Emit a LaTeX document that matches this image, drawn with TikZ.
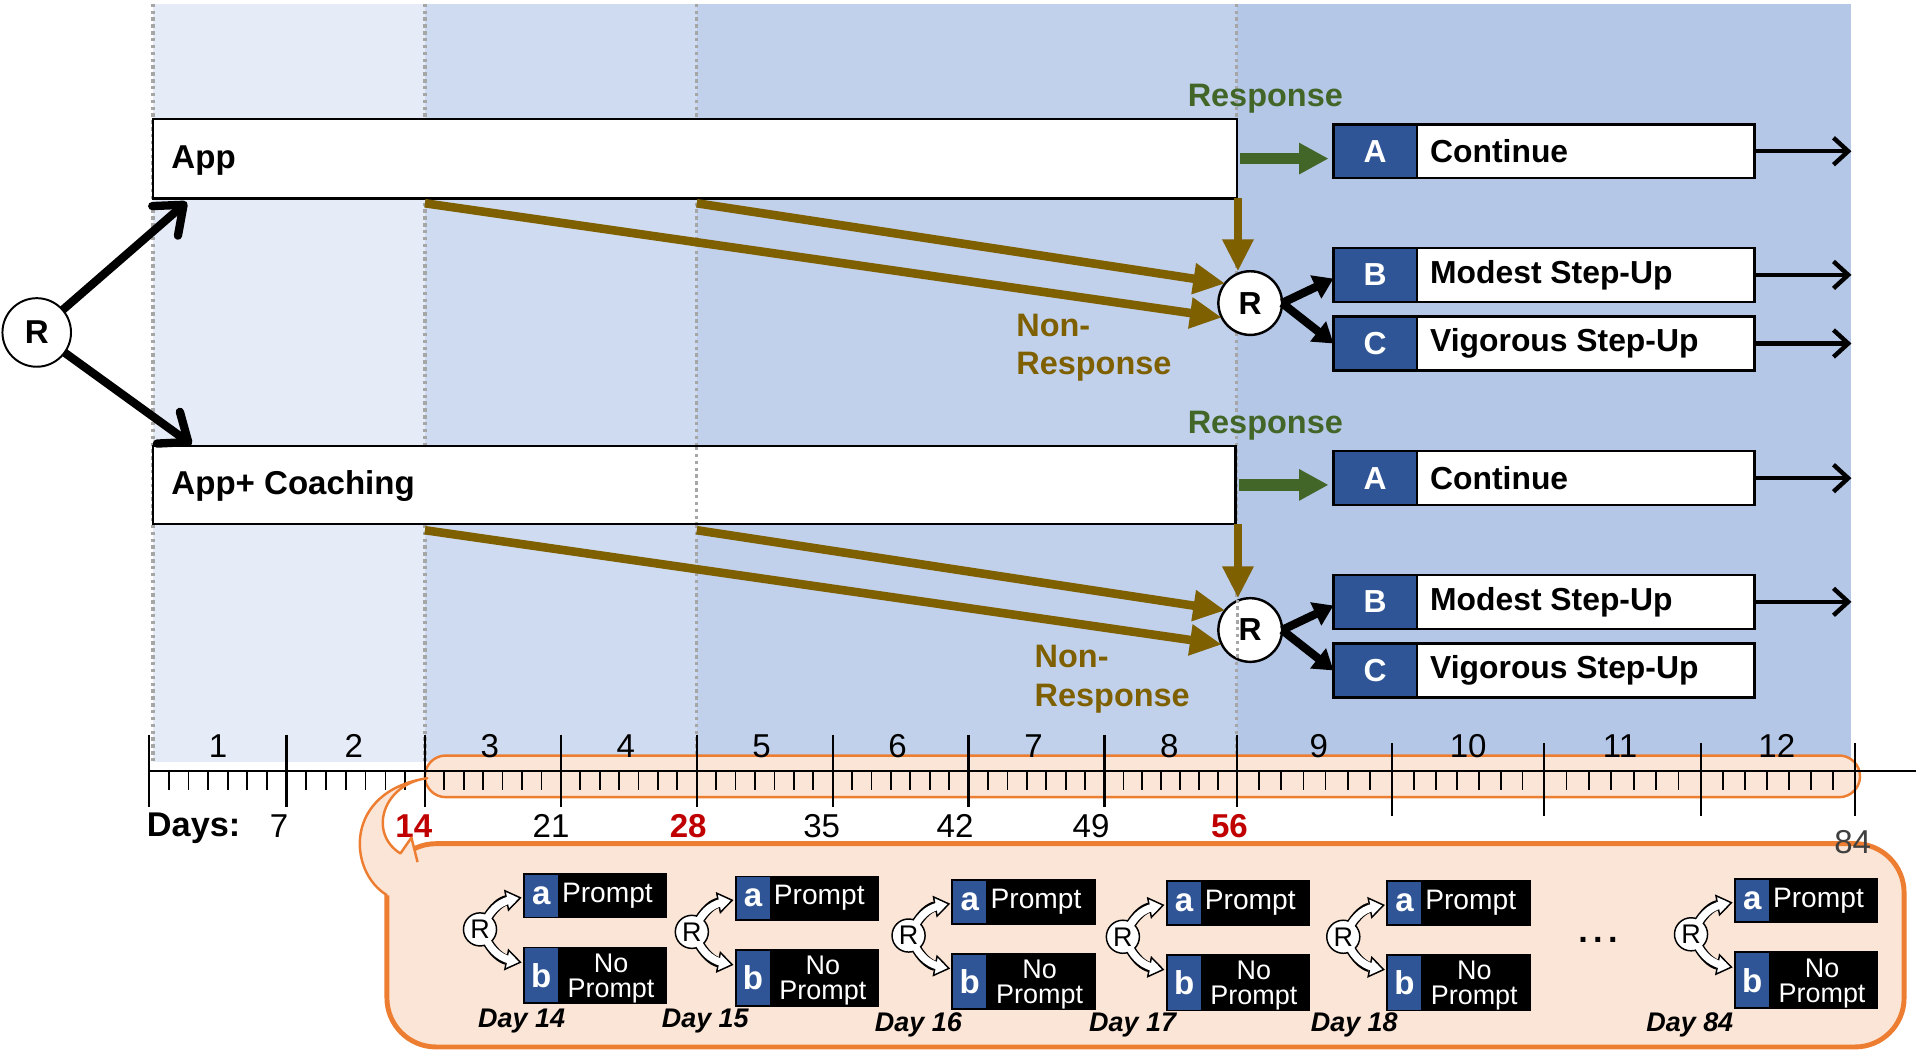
\documentclass[tikz,border=0pt]{standalone}
\usepackage{fontspec}
\setmainfont{Liberation Sans}
\usetikzlibrary{arrows.meta,calc}
\definecolor{bandA}{RGB}{230,236,247}
\definecolor{bandB}{RGB}{207,219,240}
\definecolor{bandC}{RGB}{193,208,235}
\definecolor{bandD}{RGB}{180,199,231}
\definecolor{boxblue}{RGB}{47,85,151}
\definecolor{brownarr}{RGB}{127,96,0}
\definecolor{respgreen}{RGB}{66,102,40}
\definecolor{dotgray}{RGB}{166,166,166}
\definecolor{peach}{RGB}{251,229,214}
\definecolor{orangeline}{RGB}{237,125,49}
\definecolor{redday}{RGB}{192,0,0}
\definecolor{grayday}{RGB}{64,64,64}
\newcommand{\fsz}[1]{\fontsize{#1}{#1}\selectfont}

\tikzset{
  every node/.style={inner sep=0pt, outer sep=0pt},
  dotline/.style={dotgray, line width=1.4pt, dash pattern=on 1.4pt off 1.4pt},
  bigR/.style={circle, draw, fill=white, line width=0.8pt, minimum size=28pt, font=\bfseries\fsz{13.5}},
  smallR/.style={circle, draw, fill=white, line width=1pt, minimum size=26pt, font=\bfseries\fsz{13}},
  bigarrow/.style={line width=3.4pt, -{Straight Barb[length=10pt,width=16pt,round]}},
  endarrow/.style={line width=1.8pt, -{Straight Barb[length=6pt,width=11pt]}},
  greenarrow/.style={respgreen, line width=4.75pt, -{Triangle[length=12pt,width=12pt]}},
  brownarrow/.style={brownarr, line width=3.5pt, -{Triangle[length=13pt,width=12pt]}},
  blackarrow/.style={line width=3.4pt, -{Triangle[length=8pt,width=10pt]}},
  mainbox/.style={draw, fill=white, line width=1pt, anchor=north west, minimum width=442.5pt},
  optwhite/.style={draw, fill=white, line width=1pt, anchor=north west, minimum width=172pt, minimum height=22pt},
  optblue/.style={draw, fill=boxblue, line width=1pt, anchor=north west, minimum width=34pt, minimum height=22pt, text=white, font=\bfseries\fsz{13}},
  opttext/.style={anchor=west, font=\bfseries\fsz{13}},
  grouplbl/.style={font=\bfseries\fsz{13.5}, anchor=west},
  resp/.style={text=respgreen, font=\bfseries\fsz{13.25}, anchor=base west},
  nonresp/.style={text=brownarr, font=\bfseries\fsz{13.25}, anchor=base west},
  weeknum/.style={font=\fsz{13.5}, anchor=base},
  daynum/.style={font=\fsz{13.5}, anchor=base},
  daykey/.style={font=\bfseries\fsz{13.5}, anchor=base, text=redday},
  blockarrow/.style={black, line width=4.2pt, -{Triangle[length=6.5pt,width=9pt,fill=white,line width'=0.6pt]}},
  blockinner/.style={white, line width=3pt, shorten >=3.2pt},
  blackbox/.style={fill=black, anchor=north west, minimum width=59pt},
  smallblue/.style={fill=boxblue, anchor=north west, minimum width=13.5pt, text=white, font=\bfseries\fsz{13.5}}
}

\newcommand{\optbox}[5]{%
  \node[optwhite] (#1) at (#2,#3) {};
  \node[optblue] (#1l) at (#2,#3) {#4};
  \node[opttext] (#1t) at ($(#1.west)+(79,0)$) {#5};
}

\newcommand{\daygrp}[6]{%
  \coordinate (#1p) at (#2,#3);
  \node[blackbox, minimum height=18.5pt] (#1a) at (#1p) {};
  \node[smallblue, minimum height=17pt] (#1al) at ($(#1p)+(1.5,1.5)$) {a};
  \node[anchor=west, text=white, font=\fsz{11.5}] (#1at) at ($(#1p)+(32,18.5)$) {Prompt};
  \node[blackbox, minimum height=23.5pt] (#1b) at ($(#1p)+(0,60)$) {};
  \node[smallblue, minimum height=22pt] (#1bl) at ($(#1p)+(1.5,61.5)$) {b};
  \node[align=center, text=white, font={\fontsize{11}{10.2}\selectfont}] (#1bt) at ($(#1p)+(72,86)$) {No\\Prompt};
  \coordinate (#1o) at ($(#1p)+(-35,46)$);
  \draw[blockarrow] ($(#1o)+(4,-6)$) .. controls ($(#1o)+(11,-19)$) and ($(#1o)+(18,-23)$) .. ($(#1o)+(34,-26)$);
  \draw[blockarrow] ($(#1o)+(4,6)$) .. controls ($(#1o)+(10,19)$) and ($(#1o)+(18,24)$) .. ($(#1o)+(34,27)$);
  \node[circle, draw, fill=white, line width=0.6pt, minimum size=13.5pt] (#1c) at (#1o) {};
  \draw[blockinner] ($(#1o)+(4,-6)$) .. controls ($(#1o)+(11,-19)$) and ($(#1o)+(18,-23)$) .. ($(#1o)+(34,-26)$);
  \draw[blockinner] ($(#1o)+(4,6)$) .. controls ($(#1o)+(10,19)$) and ($(#1o)+(18,24)$) .. ($(#1o)+(34,27)$);
  \node[font=\fsz{11}] (#1r) at (#1o) {R};
  \node[font=\bfseries\itshape\fsz{11}, anchor=base] (#1d) at (#4,#5) {#6};
}

\begin{document}
\begin{tikzpicture}[x=0.5pt,y=-0.5pt]
\useasboundingbox (0,0) rectangle (1568,858);
\fill[white] (0,0) rectangle (1568,858);

% background bands
\fill[bandA] (125,3) rectangle (347,622);
\fill[bandB] (347,3) rectangle (569,622);
\fill[bandC] (569,3) rectangle (1010,622);
\fill[bandD] (1010,3) rectangle (1512,622);
\foreach \x in {125,347,569,1010} \draw[dotline] (\x,3) -- (\x,622);

% response labels
\node[resp] (resp1) at (970,87) {Response};
\node[resp] (resp2) at (970,354) {Response};
\node[nonresp] (nr1a) at (830,275) {Non-};
\node[nonresp] (nr1b) at (830,306) {Response};
\node[nonresp] (nr2a) at (845,545) {Non-};
\node[nonresp] (nr2b) at (845,577) {Response};

% main boxes
\node[mainbox, minimum height=32.5pt] (app) at (125,97) {};
\node[grouplbl] (appt) at (140,131) {App};
\node[mainbox, minimum width=442pt, minimum height=32pt] (coach) at (125,364) {};
\node[grouplbl] (coacht) at (140,397) {App+ Coaching};
\draw[dotline] (569,365) -- (569,427);

% randomisation circles
\node[bigR] (R0) at (30,271.5) {R};
\node[smallR] (R1) at (1021,247.5) {R};
\node[smallR] (R2) at (1021,514.5) {R};
\draw[dotline] (1010.5,428) -- (1010.5,540);

% option boxes
\optbox{A1}{1089}{101.5}{A}{Continue}
\optbox{B1}{1089}{202.5}{B}{Modest Step-Up}
\optbox{C1}{1089}{258.5}{C}{Vigorous Step-Up}
\optbox{A2}{1089}{368.5}{A}{Continue}
\optbox{B2}{1089}{469.5}{B}{Modest Step-Up}
\optbox{C2}{1089}{525.5}{C}{Vigorous Step-Up}

% first randomisation arrows
\coordinate (appin) at (152.5,165);
\coordinate (coachin) at (156.5,363);
\draw[bigarrow] (R0) -- (appin);
\draw[bigarrow] (R0) -- (coachin);

% response arrows
\draw[greenarrow] ([xshift=1.5pt]app.east) -- ([xshift=-2pt]app.east -| A1l.west);
\draw[greenarrow] ([xshift=1.5pt]coach.east) -- ([xshift=-2pt]coach.east -| A2l.west);

% non-response arrows
\coordinate (s1a) at (347,166);
\coordinate (s1b) at (569,166);
\coordinate (s2a) at (347,433);
\coordinate (s2b) at (569,433);
\draw[brownarrow] (s1a) -- (R1.207);
\draw[brownarrow] (s1b) -- (R1.142);
\draw[brownarrow] ([xshift=0.5pt]app.south east) -- ([xshift=0.5pt]app.south east |- R1.north);
\draw[brownarrow] (s2a) -- (R2.207);
\draw[brownarrow] (s2b) -- (R2.142);
\draw[brownarrow] ([xshift=1pt]coach.south east) -- ([xshift=1pt]coach.south east |- R2.north);

% second randomisation arrows
\draw[blackarrow] (R1.east) -- ([yshift=-1.5pt]B1l.west);
\draw[blackarrow] (R1.east) -- (C1l.west);
\draw[blackarrow] (R2.east) -- ([yshift=-1.5pt]B2l.west);
\draw[blackarrow] (R2.east) -- (C2l.west);

% continuation arrows
\coordinate (xend) at (1512,0);
\foreach \b in {A1,B1,C1,A2,B2} \draw[endarrow] (\b.east) -- (\b.east -| xend);

% timeline
\draw[fill=peach, draw=orangeline, line width=1pt, rounded corners=8.5pt] (347,617) rectangle (1519,651);
\draw[line width=0.8pt] (122,630) -- (1565,630);
\foreach \a/\b in {122/234,234/347,347/458,458/569,569/680,680/791,791/902,902/1010,1010/1137,1137/1261,1261/1389,1389/1515}
  \foreach \j in {1,...,6} \draw[line width=0.7pt] ({\a+(\b-\a)*\j/7},630) -- ({\a+(\b-\a)*\j/7},645);
\foreach \x in {122,234,347,458,569,680,791,902,1010} \draw[line width=0.9pt] (\x,600) -- (\x,659);
\foreach \x in {1137,1261,1389,1515} \draw[line width=0.9pt] (\x,607) -- (\x,666);
\foreach \x [count=\i] in {178,289,400,511,622,733,844,955,1077,1199,1323,1451}
  \node[weeknum] (wk\i) at (\x,619) {\i};

\node[font=\bfseries\fsz{14}, anchor=base west] (days) at (120,683) {Days:};
\node[daynum] (d7) at (228,684) {7};
\node[daykey] (d14) at (338,684) {14};
\node[daynum] (d21) at (450,684) {21};
\node[daykey] (d28) at (562,684) {28};
\node[daynum] (d35) at (671,684) {35};
\node[daynum] (d42) at (780,684) {42};
\node[daynum] (d49) at (891,684) {49};
\node[daykey] (d56) at (1004,684) {56};

% callout
\draw[fill=peach, draw=orangeline, line width=2pt, rounded corners=20pt] (316,689) rectangle (1555,855);
\fill[peach] (316,731) .. controls (284,712) and (280,646) .. (349,635.5)
   .. controls (313,640) and (300,680) .. (327,697) -- (336,684) -- (341,704) -- (330,733) -- cycle;
\draw[orangeline, line width=1pt, line join=round] (316,731) .. controls (284,712) and (280,646) .. (349,635.5)
   .. controls (313,640) and (300,680) .. (327,697) -- (336,684) -- (341,704);

\daygrp{ga}{427}{713}{426}{839.5}{Day 14}
\daygrp{gb}{600}{715}{576}{839}{Day 15}
\daygrp{gc}{777}{718}{750}{842}{Day 16}
\daygrp{gd}{952}{719}{925}{842}{Day 17}
\daygrp{ge}{1132}{719}{1106}{842}{Day 18}
\daygrp{gf}{1416}{717}{1380}{842}{Day 84}
\node[font=\bfseries\fsz{14}, anchor=base] (dots) at (1305,770) {.\hspace{2.2pt}.\hspace{2.2pt}.};

\node[font=\fsz{13.5}, text=grayday, anchor=base] (d84) at (1513,697) {84};
\end{tikzpicture}
\end{document}
